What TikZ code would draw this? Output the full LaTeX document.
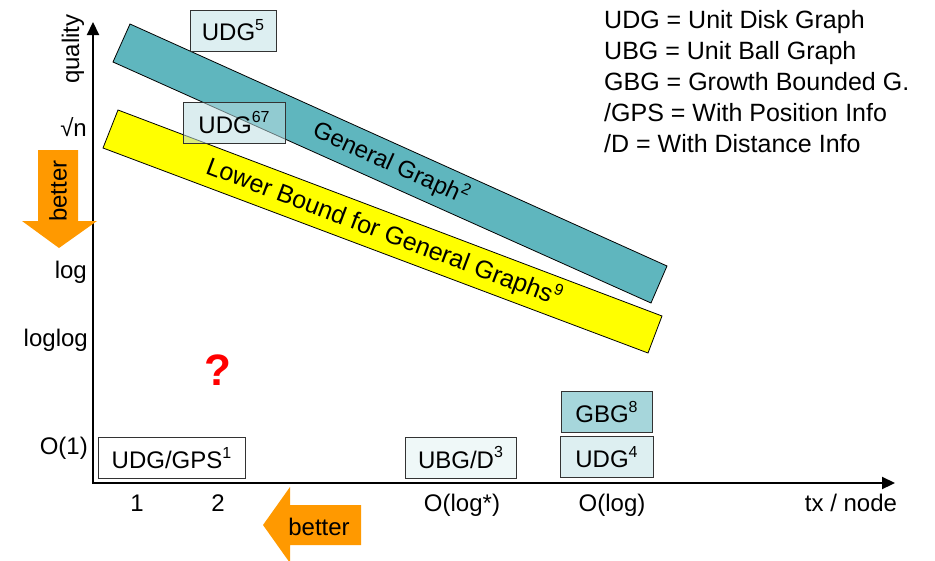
\documentclass[tikz,border=0pt]{standalone}
\usepackage{fontspec}
\setmainfont{Liberation Sans}
\usetikzlibrary{arrows.meta,positioning}
\definecolor{bandteal}{HTML}{5FB6BE}
\definecolor{bandyellow}{HTML}{FFFF00}
\definecolor{arroworange}{HTML}{FF9900}
\definecolor{boxlight}{HTML}{DDEFF1}
\definecolor{boxmid}{HTML}{A6D6DB}
\definecolor{boxpale}{HTML}{EFF8F8}
\definecolor{boxglass}{HTML}{BDDEE2}
\newcommand{\sups}[1]{\raisebox{0.42em}{\fontsize{16}{16}\selectfont #1}}
\newcommand{\newResult}[4]{\node[result,#3](#1)[#4]{#2};}
\newcommand{\newLegend}[3]{\node[legend](#1) at (604,#2) {#3};}

\begin{document}
\begin{tikzpicture}[
    % one unit = one pixel, y downwards
    x=1pt,y=-1pt,
    % Default font
    font=\fontsize{24}{29}\selectfont,
    % Result boxes
    result/.style={draw=black!80,line width=1pt,minimum height=41pt,inner xsep=0pt,inner ysep=0pt},
    band/.style={draw=black,line width=0.8pt},
    axislabel/.style={anchor=base east,inner sep=0pt},
    ticklabel/.style={anchor=base,inner sep=0pt},
    legend/.style={anchor=base west,inner sep=0pt,font=\fontsize{25}{30}\selectfont}
    ]

    \useasboundingbox (0,0) rectangle (935,560);

    % bands
    \filldraw[band,fill=bandteal] (130,24) -- (667,266) -- (651,303) -- (113,62) -- cycle;
    \filldraw[band,fill=bandyellow] (118,110) -- (662,316) -- (648,353) -- (103,148) -- cycle;
    \node[rotate=-24.3,inner sep=0pt] (general) at (391,163) {General Graph\sups{2}};
    \node[rotate=-20.7,inner sep=0pt,font=\fontsize{25}{30}\selectfont] (lower) at (384,232) {Lower Bound for General Graphs\sups{9}};

    % axes
    \coordinate (origin) at (93,483);
    \coordinate (ytop) at (93,22);
    \coordinate (xend) at (895,483);
    \draw[line width=2.2pt,{Triangle[length=13pt,width=12pt]}-{Triangle[length=13pt,width=12pt]}] (ytop) |- (xend);

    \node[rotate=90] (quality) at (73,49) {quality};
    \node[axislabel] (sqrtn) at (87,136) {√n};
    \node[axislabel] (log) at (87,278) {log};
    \node[axislabel] (loglog) at (88,346) {loglog};
    \node[axislabel] (oone) at (88,454) {O(1)};

    \node[ticklabel] (xone) at (137,511) {1};
    \node[ticklabel] (xtwo) at (218,511) {2};
    \node[ticklabel] (xlogstar) at (462,511) {O(log*)};
    \node[ticklabel] (xlog) at (612,511) {O(log)};
    \node[ticklabel] (xunit) at (851,511) {tx / node};

    % better arrows
    \fill[arroworange] (38,150) -- (78,150) -- (78,221) -- (97,221) -- (59,248) -- (22,221) -- (38,221) -- cycle;
    \node[rotate=90] (betterv) at (58,191) {better};
    \fill[arroworange] (361,505) -- (361,545) -- (290,545) -- (290,563) -- (263,525) -- (290,487) -- (290,505) -- cycle;
    \node[ticklabel] (betterh) at (319,535) {better};

    \node[text=red,font=\fontsize{44}{44}\selectfont\bfseries] (question) at (218,370) {?};

    % results
    \newResult{udgfive}{UDG\sups{5}}{fill=boxlight,minimum width=86pt}{at={(233,30.5)}}
    \newResult{udgsix}{UDG\sups{67}}{fill=boxglass,fill opacity=0.54,text opacity=1,minimum width=102pt}{at={(234,122.5)}}
    \newResult{udggps}{UDG/GPS\sups{1}}{fill=white,minimum width=147pt}{at={(171.5,458)}}
    \newResult{ubgd}{UBG/D\sups{3}}{fill=boxpale,minimum width=111pt}{at={(460.5,457.5)}}
    \newResult{udgfour}{UDG\sups{4}}{fill=boxlight,minimum width=93pt}{at={(606.5,457)}}
    \newResult{gbg}{GBG\sups{8}}{fill=boxmid,minimum width=91pt}{above=3pt of udgfour}

    % legend
    \newLegend{legudg}{28}{UDG = Unit Disk Graph}
    \newLegend{legubg}{59}{UBG = Unit Ball Graph}
    \newLegend{leggbg}{90}{GBG = Growth Bounded G.}
    \newLegend{leggps}{121}{/GPS = With Position Info}
    \newLegend{legd}{152}{/D = With Distance Info}
\end{tikzpicture}
\end{document}
